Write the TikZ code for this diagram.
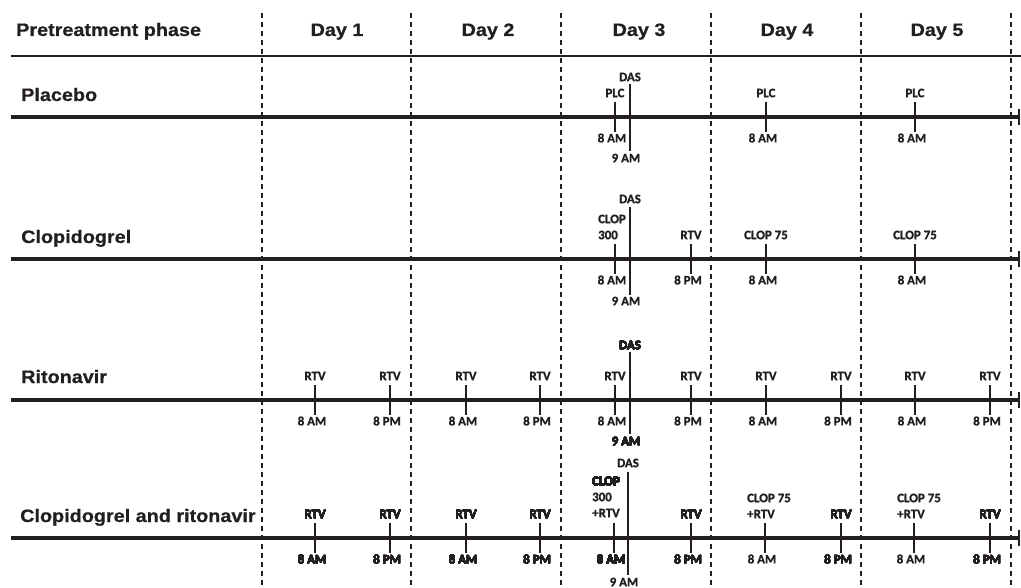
\documentclass[tikz,border=0pt]{standalone}
\usepackage{fontspec}
\setmainfont{Liberation Sans}
\newfontfamily\ttlfont{Liberation Sans}[FakeStretch=1.1,BoldFeatures={FakeBold=0.6}]
\newfontfamily\labfont{Carlito Bold}[FakeBold=1.2]
\definecolor{ink}{RGB}{35,31,32}
\newcommand\tck[5]{% name, x, y, top label, bottom label
  \draw[tickline] (#2,#3-15) -- (#2,#3+15);
  \node[lbl] (#1t) at (#2,#3-24) {#4};
  \node[lbl] (#1b) at (#2-3,#3+21) {#5};}
\newcommand\tckb[3]{% name, x, y (tick with bottom label only)
  \draw[tickline] (#2,#3-15) -- (#2,#3+15);
  \node[lbl] (#1b) at (#2-3,#3+21) {8 AM};}
\newcommand\dasline[6]{% name, x, top, bottom, das label y, 9am y
  \draw[dasl] (#2,#3) -- (#2,#4);
  \node[lbl] (#1t) at (#2,#5) {DAS};
  \node[lbl] (#1b) at (#2-4,#6) {9 AM};}
\begin{document}
\begin{tikzpicture}[x=1pt,y=-1pt,
  dayline/.style={draw=ink,line width=1.2pt,dash pattern=on 5pt off 4pt},
  tl/.style={draw=ink,line width=3.2pt},
  hdr/.style={draw=ink,line width=2pt},
  tickline/.style={draw=ink,line width=2pt},
  dasl/.style={draw=ink,line width=1.4pt},
  endbar/.style={draw=ink,line width=2.6pt},
  lbl/.style={inner sep=0pt,text=ink,font=\labfont\fontsize{12.9}{16}\selectfont},
  lbll/.style={lbl,anchor=west},
  ttl/.style={inner sep=0pt,anchor=base west,text=ink,font=\ttlfont\bfseries\fontsize{18}{21}\selectfont},
  dayl/.style={inner sep=0pt,anchor=base,text=ink,font=\ttlfont\bfseries\fontsize{18}{21}\selectfont}]
\useasboundingbox (0,0) rectangle (1021,588);
\fill[white] (0,0) rectangle (1021,588);
% dashed day separators
\foreach \x [count=\i] in {262,411,561,711,861,1011}
  \draw[dayline] (\x,13) -- (\x,588);
% header
\node[ttl] (hpre) at (16,36) {Pretreatment phase};
\node[dayl] (d1) at (337,36) {Day 1};
\node[dayl] (d2) at (488,36) {Day 2};
\node[dayl] (d3) at (639,36) {Day 3};
\node[dayl] (d4) at (787,36) {Day 4};
\node[dayl] (d5) at (937,36) {Day 5};
\draw[hdr] (11,56) -- (1021,56);
% row titles
\node[ttl] (rp) at (21,101) {Placebo};
\node[ttl] (rc) at (21,243) {Clopidogrel};
\node[ttl] (rr) at (21,383) {Ritonavir};
\node[ttl] (rcr) at (20,522) {Clopidogrel and ritonavir};
% timelines
\foreach \y in {117,259,400,538}{
  \draw[tl] (11,\y) -- (1019,\y);
  \draw[endbar] (1019,\y-8) -- (1019,\y+8);
}
% ---- Placebo
\tck{pa}{615}{117}{PLC}{8 AM}
\tck{pb}{766}{117}{PLC}{8 AM}
\tck{pc}{915}{117}{PLC}{8 AM}
\dasline{pd}{630}{84}{151}{77}{158}
% ---- Clopidogrel
\tckb{ca}{615}{259}
\node[lbll] (ca1) at (598,219) {CLOP};
\node[lbll] (ca2) at (598,235) {300};
\tck{cb}{691}{259}{RTV}{8 PM}
\tck{cc}{766}{259}{CLOP 75}{8 AM}
\tck{cd}{915}{259}{CLOP 75}{8 AM}
\dasline{cdas}{630}{207}{295}{199}{301}
% ---- Ritonavir
\foreach \x/\n [count=\i] in {315/8 AM,390/8 PM,466/8 AM,540/8 PM,615/8 AM,691/8 PM,766/8 AM,841/8 PM,915/8 AM,990/8 PM}
  \tck{r\i}{\x}{400}{RTV}{\n}
\dasline{rdas}{630}{352}{434}{345}{441}
% ---- Clopidogrel and ritonavir
\foreach \x/\n [count=\i] in {315/8 AM,390/8 PM,466/8 AM,540/8 PM,691/8 PM,841/8 PM,990/8 PM}
  \tck{x\i}{\x}{538}{RTV}{\n}
\tckb{xa}{614}{538}
\node[lbll] (xa1) at (592,481) {CLOP};
\node[lbll] (xa2) at (592,497) {300};
\node[lbll] (xa3) at (592,513) {+RTV};
\tckb{xb}{765}{538}
\node[lbll] (xb1) at (747,498) {CLOP 75};
\node[lbll] (xb2) at (747,514) {+RTV};
\tckb{xc}{914}{538}
\node[lbll] (xc1) at (897,498) {CLOP 75};
\node[lbll] (xc2) at (897,514) {+RTV};
\dasline{xdas}{628}{472}{575}{463}{582}
\end{tikzpicture}
\end{document}
